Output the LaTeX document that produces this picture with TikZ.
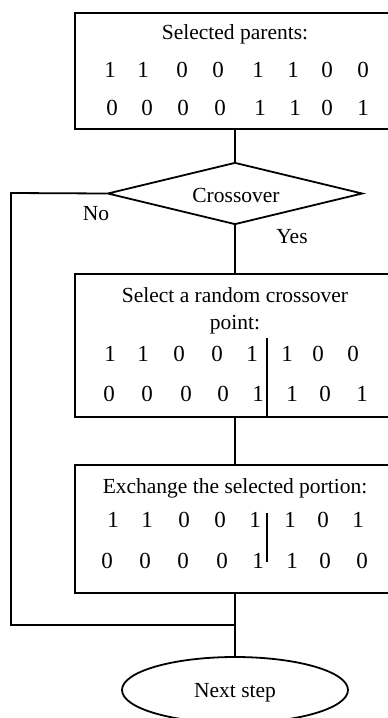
\documentclass[tikz,border=0pt]{standalone}
\usepackage{fontspec}
\setmainfont{Liberation Serif}
\usetikzlibrary{shapes.geometric}
\begin{document}
\begin{tikzpicture}[x=1pt,y=-1pt,
  every node/.style={font=\fontsize{21.5}{26}\selectfont},
  ln/.style={line width=1.8pt},
  stepbox/.style={draw,line width=1.8pt,rectangle,minimum width=320pt,inner sep=0pt},
  txt/.style={anchor=base,inner sep=0pt},
  digit/.style={anchor=base,inner sep=0pt,font=\fontsize{23}{26}\selectfont}]
\useasboundingbox (0,0) rectangle (388,718);
\clip (0,0) rectangle (388,718);
% boxes
\node[stepbox,minimum height=116pt] (b1) at (235,71) {};
\node[draw,line width=1.8pt,diamond,minimum width=255pt,minimum height=62pt,inner sep=0pt,aspect=4.1] (dec) at (235,193.5) {};
\node[stepbox,minimum height=143pt] (b2) at (235,345.5) {};
\node[stepbox,minimum height=128pt] (b3) at (235,529) {};
\node[draw,line width=1.8pt,ellipse,minimum width=226pt,minimum height=66pt,inner sep=0pt] (end) at (235,690) {};
% texts
\node[txt] (t1) at (235,39) {Selected parents:};
\node[txt] (tc) at (236,202) {Crossover};
\node[txt] (tno) at (96,220) {No};
\node[txt] (tyes) at (292,243) {Yes};
\node[txt] (t2a) at (235,302) {Select a random crossover};
\node[txt] (t2b) at (235,329) {point:};
\node[txt] (t3) at (235,493) {Exchange the selected portion:};
\node[txt] (tn) at (235,697) {Next step};
% digits box 1
\foreach \x/\d [count=\i] in {110/1,143/1,182/0,218/0,258/1,293/1,327/0,363/0}
  \node[digit] (pa\i) at (\x,77) {\d};
\foreach \x/\d [count=\i] in {112/0,147/0,183/0,220/0,260/1,295/1,327/0,363/1}
  \node[digit] (pb\i) at (\x,115) {\d};
% digits box 2
\foreach \x/\d [count=\i] in {110/1,143/1,179/0,217/0,252/1,287/1,318/0,353/0}
  \node[digit] (qa\i) at (\x,361) {\d};
\foreach \x/\d [count=\i] in {109/0,147/0,186/0,223/0,258/1,292/1,325/0,362/1}
  \node[digit] (qb\i) at (\x,401) {\d};
% digits box 3
\foreach \x/\d [count=\i] in {113/1,147/1,184/0,220/0,255/1,290/1,323/0,358/1}
  \node[digit] (ra\i) at (\x,527) {\d};
\foreach \x/\d [count=\i] in {107/0,145/0,183/0,222/0,258/1,292/1,325/0,362/0}
  \node[digit] (rb\i) at (\x,568) {\d};
% crossover bars
\coordinate (c2) at (267,338);
\coordinate (c3a) at (267,513);
\coordinate (c3b) at (267,562);
\draw[ln] (c2) -- (c2 |- b2.south);
\draw[ln] (c3a) -- (c3b);
% connectors
\coordinate (lt) at (11,193);
\coordinate (lb) at (11,625);
\coordinate (mj) at (235,625);
\draw[ln] (b1.south) -- (dec.north);
\draw[ln] (dec.south) -- (b2.north);
\draw[ln] (b2.south) -- (b3.north);
\draw[ln] (b3.south) -- (end.north);
\draw[ln] (dec.west) -- (lt) -- (lb) -- (mj);
\end{tikzpicture}
\end{document}
